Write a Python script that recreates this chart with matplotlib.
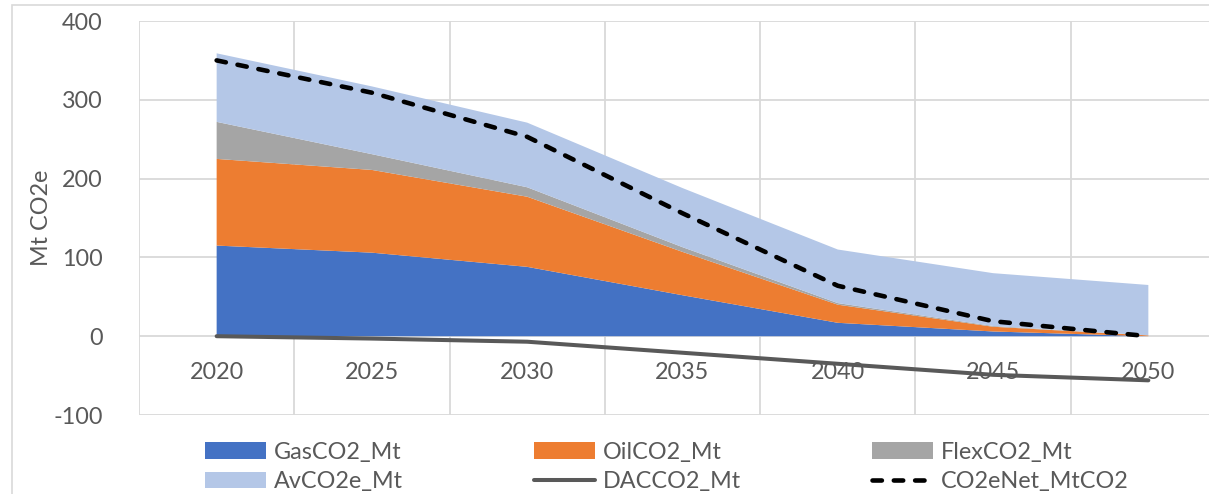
import matplotlib
matplotlib.use("Agg")
import matplotlib.pyplot as plt
from matplotlib.patches import Rectangle
import numpy as np

years = ["2020", "2025", "2030", "2035", "2040", "2045", "2050"]
gas_co2 = [115, 106, 88, 52, 17, 6, 0]
oil_co2 = [110, 105, 89, 55, 23, 6, 1]
flex_co2 = [47, 20, 12, 6, 2, 1, 0]
av_co2e = [87, 86, 82, 75, 68, 67, 64]
dac_co2 = [0, -3, -7, -21, -35, -49, -56]
net_co2e = [350, 309, 253, 156, 64, 19, 0]

TEXT = "#595959"
GRID = "#D9D9D9"
plt.rcParams["font.family"] = ["Lato", "DejaVu Sans"]
plt.rcParams["axes.unicode_minus"] = False
FS = 16.8

W, H = 1209, 494
fig = plt.figure(figsize=(W / 100, H / 100), dpi=100)
# outer chart frame, runs off the right and bottom edges
fig.patches.append(Rectangle((12 / W, -0.1), 1.2, 1 - 5 / H + 0.1, transform=fig.transFigure,
                             fill=False, edgecolor=GRID, lw=1.2))

ax = fig.add_axes([139 / W, 1 - 415 / H, 1087 / W, 394 / H])
x = np.arange(len(years))

ax.stackplot(x, gas_co2, oil_co2, flex_co2, av_co2e,
             colors=["#4472C4", "#ED7D31", "#A5A5A5", "#B4C7E7"], zorder=2,
             labels=["GasCO2_Mt", "OilCO2_Mt", "FlexCO2_Mt", "AvCO2e_Mt"])
ax.plot(x, dac_co2, color="#595959", lw=2.9, solid_capstyle="round", zorder=4, label="DACCO2_Mt")
ax.plot(x, net_co2e, color="black", lw=3.3, dash_capstyle="round",
        linestyle=(0, (2.05, 2.6)), zorder=5, label="CO2eNet_MtCO2")

ax.set_xlim(-0.5, len(years) - 0.5)
ax.set_ylim(-100, 400)
ax.set_yticks(np.arange(-100, 401, 100))
ax.set_xticks(x - 0.5)
ax.set_xticklabels([])
ax.grid(True, color=GRID, lw=1.3, zorder=0)
ax.set_axisbelow(True)
for s in ax.spines.values():
    s.set_visible(False)
ax.tick_params(length=0, labelsize=FS, labelcolor=TEXT, pad=26)
fig.text(42 / W, 1 - 218 / H, "Mt CO2e", rotation=90, ha="center", va="center",
         fontsize=FS, color=TEXT)

# category labels sit just under the zero line
for i, yr in enumerate(years):
    ax.annotate(yr, (i, 0), xytext=(0, -36), textcoords="offset pixels",
                ha="center", va="center", fontsize=FS, color=TEXT, zorder=1)

handles, labels = ax.get_legend_handles_labels()
order = [0, 3, 1, 4, 2, 5]
leg = fig.legend([handles[i] for i in order], [labels[i] for i in order],
                 ncol=3, loc="center left", bbox_to_anchor=(205 / W, 1 - 467 / H),
                 frameon=False, fontsize=FS, labelcolor=TEXT,
                 handlelength=2.62, handleheight=0.73, handletextpad=0.35,
                 columnspacing=5.6, labelspacing=0.36, borderpad=0, borderaxespad=0)

fig.savefig("out.png", dpi=100)
